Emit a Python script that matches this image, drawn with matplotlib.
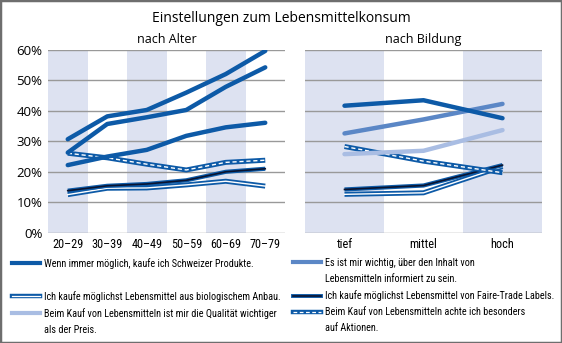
import numpy as np
import matplotlib.pyplot as plt
from matplotlib.lines import Line2D
from matplotlib.patches import Rectangle
from matplotlib.font_manager import FontProperties

# Farben
dunkel = "#0d5aa7"
mittel = "#5b87c6"
hell = "#a9bde3"
band = "#dde2f1"
gitter = "#999999"

plt.rcParams['font.family'] = ["Open Sans", "DejaVu Sans"]
schmal_fam = ["Roboto Condensed", "Liberation Sans Narrow", "Lato"]

# Daten
alter = ["20–29", "30–39", "40–49", "50–59", "60–69", "70–79"]
bildung = ["tief", "mittel", "hoch"]

alter_schweizer = [30.7, 38.2, 40.3, 46.0, 52.1, 59.7]
alter_informiert = [26.3, 35.7, 37.9, 40.3, 47.9, 54.3]
alter_qualitaet = [22.2, 25.0, 27.2, 31.8, 34.6, 36.1]
alter_aktionen = [26.1, 24.6, 22.5, 20.6, 23.1, 23.8]
alter_fairtrade = [13.8, 15.4, 16.0, 17.2, 20.0, 21.0]
alter_bio = [12.5, 14.6, 14.7, 15.7, 16.9, 15.3]

bildung_schweizer = [41.7, 43.5, 37.6]
bildung_informiert = [32.6, 37.2, 42.3]
bildung_qualitaet = [25.8, 26.9, 33.7]
bildung_aktionen = [28.3, 23.5, 19.7]
bildung_fairtrade = [14.2, 15.5, 22.2]
bildung_bio = [12.6, 13.1, 21.7]

labels = [
    "Wenn immer möglich, kaufe ich Schweizer Produkte.",
    "Es ist mir wichtig, über den Inhalt von\nLebensmitteln informiert zu sein.",
    "Ich kaufe möglichst Lebensmittel aus biologischem Anbau.",
    "Ich kaufe möglichst Lebensmittel von Faire-Trade Labels.",
    "Beim Kauf von Lebensmitteln ist mir die Qualität wichtiger\nals der Preis.",
    "Beim Kauf von Lebensmitteln achte ich besonders\nauf Aktionen.",
]

W, H = 562, 343
fig = plt.figure(figsize=(W / 100, H / 100), dpi=100)

schmal = FontProperties(family=schmal_fam, size=7.3)
schmal_x = FontProperties(family=schmal_fam, size=8.8)


def px_axes(x0, y0, x1, y1):
    return fig.add_axes([x0 / W, 1 - y1 / H, (x1 - x0) / W, (y1 - y0) / H])


def panel(ax, cats, schweizer, informiert, qualitaet, aktionen, fairtrade, bio, farben):
    x = np.arange(len(cats))
    for i in range(0, len(cats), 2):
        ax.axvspan(i - 0.5, i + 0.5, color=band, lw=0, zorder=0)
    ax.set_xlim(-0.5, len(cats) - 0.5)
    ax.set_ylim(0, 60)
    ax.set_yticks(np.arange(0, 61, 10))
    ax.yaxis.grid(True, color=gitter, lw=1)
    ax.set_axisbelow(True)
    for s in ax.spines.values():
        s.set_visible(False)
    ax.tick_params(length=0)
    ax.set_xticks(x)
    ax.set_xticklabels(cats, fontproperties=schmal_x)
    ax.tick_params(axis="x", pad=4)

    # Bio, Faire-Trade, Aktionen (zweifarbige Linien)
    ax.plot(x, bio, color=dunkel, lw=3.6, solid_capstyle="butt", zorder=3)
    ax.plot(x, bio, color="white", lw=1.0, zorder=3)
    ax.plot(x, fairtrade, color=dunkel, lw=3.0, solid_capstyle="butt", zorder=3)
    ax.plot(x, fairtrade, color="#0a1430", lw=1.2, zorder=3)
    ax.plot(x, aktionen, color=dunkel, lw=3.6, solid_capstyle="butt", zorder=3)
    ax.plot(x, aktionen, color="white", lw=1.0, dashes=(3, 2), zorder=3)
    ax.plot(x, qualitaet, color=farben[2], lw=3.2, solid_capstyle="round", zorder=4)
    ax.plot(x, informiert, color=farben[1], lw=3.2, solid_capstyle="round", zorder=4)
    ax.plot(x, schweizer, color=farben[0], lw=3.2, solid_capstyle="round", zorder=5)


ax1 = px_axes(48, 50, 285, 232.7)
panel(ax1, alter, alter_schweizer, alter_informiert, alter_qualitaet,
      alter_aktionen, alter_fairtrade, alter_bio, [dunkel, dunkel, dunkel])
ax1.yaxis.set_major_formatter(plt.FuncFormatter(lambda v, p: f"{v:.0f}%"))
ax1.tick_params(axis="y", labelsize=9.5, pad=4)
ax1.set_title("nach Alter", fontsize=9, pad=5)

ax2 = px_axes(305, 50, 542, 232.7)
panel(ax2, bildung, bildung_schweizer, bildung_informiert, bildung_qualitaet,
      bildung_aktionen, bildung_fairtrade, bildung_bio, [dunkel, mittel, hell])
ax2.set_yticklabels([])
ax2.set_title("nach Bildung", fontsize=9, pad=5)

fig.text(0.5, 1 - 19 / H, "Einstellungen zum Lebensmittelkonsum",
         ha="center", va="center", fontsize=10)

# Legende: zwei Spalten, Folgezeilen als eigene Einträge ohne Linie
h_schweizer = Line2D([], [], color=dunkel, lw=3.0)
h_informiert = Line2D([], [], color=mittel, lw=3.0)
h_qualitaet = Line2D([], [], color=hell, lw=3.0)
h_bio = (Line2D([], [], color=dunkel, lw=3.2), Line2D([], [], color="white", lw=0.9))
h_fair = (Line2D([], [], color=dunkel, lw=2.8), Line2D([], [], color="#0a1430", lw=1.2))
h_akt = (Line2D([], [], color=dunkel, lw=3.2),
         Line2D([], [], color="white", lw=0.9, dashes=(3, 2)))
leer = Line2D([], [], color="none")


def zeilen(t):
    z = t.split("\n")
    return z + [" "] * (2 - len(z))


l0, l1, l4, l5 = zeilen(labels[0]), zeilen(labels[1]), zeilen(labels[4]), zeilen(labels[5])

links_h = [h_schweizer, leer, h_bio, h_qualitaet, leer]
links_t = [l0[0], l0[1], labels[2], l4[0], l4[1]]
rechts_h = [h_informiert, leer, h_fair, h_akt, leer]
rechts_t = [l1[0], l1[1], labels[3], l5[0], l5[1]]

for hs, ts, x0 in [(links_h, links_t, 12), (rechts_h, rechts_t, 293)]:
    fig.legend(hs, ts, loc="upper left", bbox_to_anchor=(x0 / W, 1 - 258 / H),
               frameon=False, prop=schmal, handlelength=2.75,
               handletextpad=0.45, labelspacing=0.6,
               borderaxespad=0, borderpad=0)

fig.patches.append(Rectangle((0, 0), 1, 1, transform=fig.transFigure,
                             fill=False, edgecolor="#6e6e6e", lw=2.5))

fig.savefig("out.png", dpi=100)
